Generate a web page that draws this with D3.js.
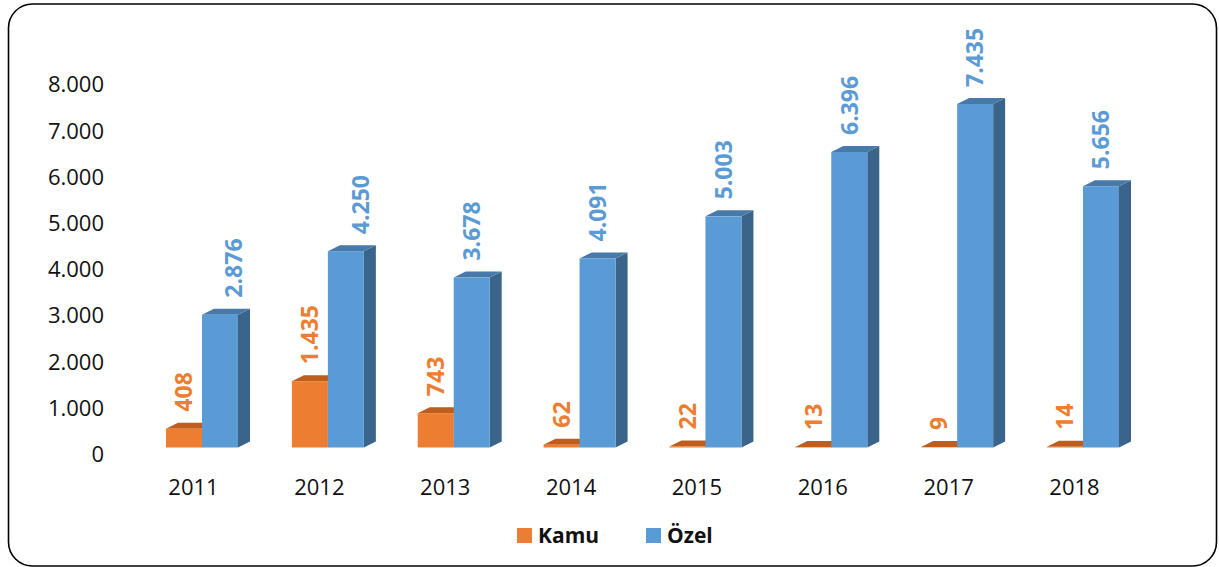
<!DOCTYPE html>
<html>
<head>
<meta charset="utf-8">
<script src="https://cdn.jsdelivr.net/npm/d3@7"></script>
<style>
  html, body { margin: 0; padding: 0; background: #fff; }
  svg { display: block; font-family: "Open Sans", "Liberation Sans", sans-serif; }
</style>
</head>
<body>
<div id="app"></div>
<script>
const years = ["2011", "2012", "2013", "2014", "2015", "2016", "2017", "2018"];
const kamu = [408, 1435, 743, 62, 22, 13, 9, 14];
const ozel = [2876, 4250, 3678, 4091, 5003, 6396, 7435, 5656];
const yTicks = [0, 1000, 2000, 3000, 4000, 5000, 6000, 7000, 8000];

const series = [
  { name: "Kamu", values: kamu, front: "#ED7D31", top: "#BE5E1E", side: "#A4511A" },
  { name: "Özel", values: ozel, front: "#5B9BD5", top: "#4779AA", side: "#3A6489" }
];

const W = 1219, H = 567;
const svg = d3.select("#app").append("svg").attr("width", W).attr("height", H);

// frame
svg.append("rect")
  .attr("x", 8.5).attr("y", 4).attr("width", 1208).attr("height", 562)
  .attr("rx", 24).attr("ry", 24)
  .attr("fill", "#fff").attr("stroke", "#000").attr("stroke-width", 1.6);

const loc = d3.formatLocale({ decimal: ",", thousands: ".", grouping: [3], currency: ["", ""] });
const fmt = loc.format(",d");

const x = d3.scalePoint().domain(years).range([202, 1083]);
const y = d3.scaleLinear().domain([0, 8000]).range([447.5, 77.9]);
const barW = 36, dx = 12, dy = -6;

// y axis labels
const yAxis = d3.axisLeft(y).tickValues(yTicks).tickSize(0).tickPadding(0).tickFormat(fmt);
const ya = svg.append("g").attr("transform", "translate(104,7)").call(yAxis);
ya.select(".domain").remove();
ya.selectAll("text").attr("font-size", 22).attr("fill", "#111")
  .style("font-family", "'Open Sans', sans-serif");

// x labels
const xAxis = d3.axisBottom(x).tickSize(0).tickPadding(0);
const xa = svg.append("g").attr("transform", "translate(-9,479)").call(xAxis);
xa.select(".domain").remove();
xa.selectAll("text").attr("font-size", 22).attr("fill", "#111")
  .style("font-family", "'Open Sans', sans-serif");

// 3D bars
const bars = svg.append("g");
years.forEach((yr, i) => {
  series.forEach((s, j) => {
    const v = s.values[i];
    const x0 = x(yr) + (j === 0 ? -barW : 0);
    const x1 = x0 + barW;
    const yt = y(v), yb = y(0);
    const g = bars.append("g");
    g.append("path")
      .attr("d", `M${x1},${yb}L${x1 + dx},${yb + dy}L${x1 + dx},${yt + dy}L${x1},${yt}Z`)
      .attr("fill", s.side);
    g.append("path")
      .attr("d", `M${x0},${yt}L${x0 + dx},${yt + dy}L${x1 + dx},${yt + dy}L${x1},${yt}Z`)
      .attr("fill", s.top);
    g.append("rect")
      .attr("x", x0).attr("y", yt).attr("width", barW).attr("height", yb - yt)
      .attr("fill", s.front);
  });
});

// value labels (first two Özel labels were moved right in the original)
const nudge = { "Özel-2011": 14, "Özel-2012": 15 };
const labels = svg.append("g");
years.forEach((yr, i) => {
  series.forEach((s, j) => {
    const v = s.values[i];
    const cx = x(yr) + (j === 0 ? -barW / 2 : barW / 2) + (nudge[s.name + "-" + yr] || 0);
    labels.append("text")
      .attr("transform", `translate(${cx},${y(v) - 17}) rotate(-90)`)
      .attr("dy", "0.36em")
      .attr("text-anchor", "start")
      .attr("font-size", 23)
      .attr("font-weight", "bold")
      .attr("fill", s.front)
      .text(fmt(v));
  });
});

// legend
const legend = svg.append("g");
const legX = [517, 646];
series.forEach((s, j) => {
  legend.append("rect")
    .attr("x", legX[j]).attr("y", 528).attr("width", 15).attr("height", 15)
    .attr("fill", s.front);
  legend.append("text")
    .attr("x", legX[j] + 21).attr("y", 543)
    .attr("font-size", 21).attr("font-weight", "bold").attr("fill", "#111")
    .text(s.name);
});
</script>
</body>
</html>
